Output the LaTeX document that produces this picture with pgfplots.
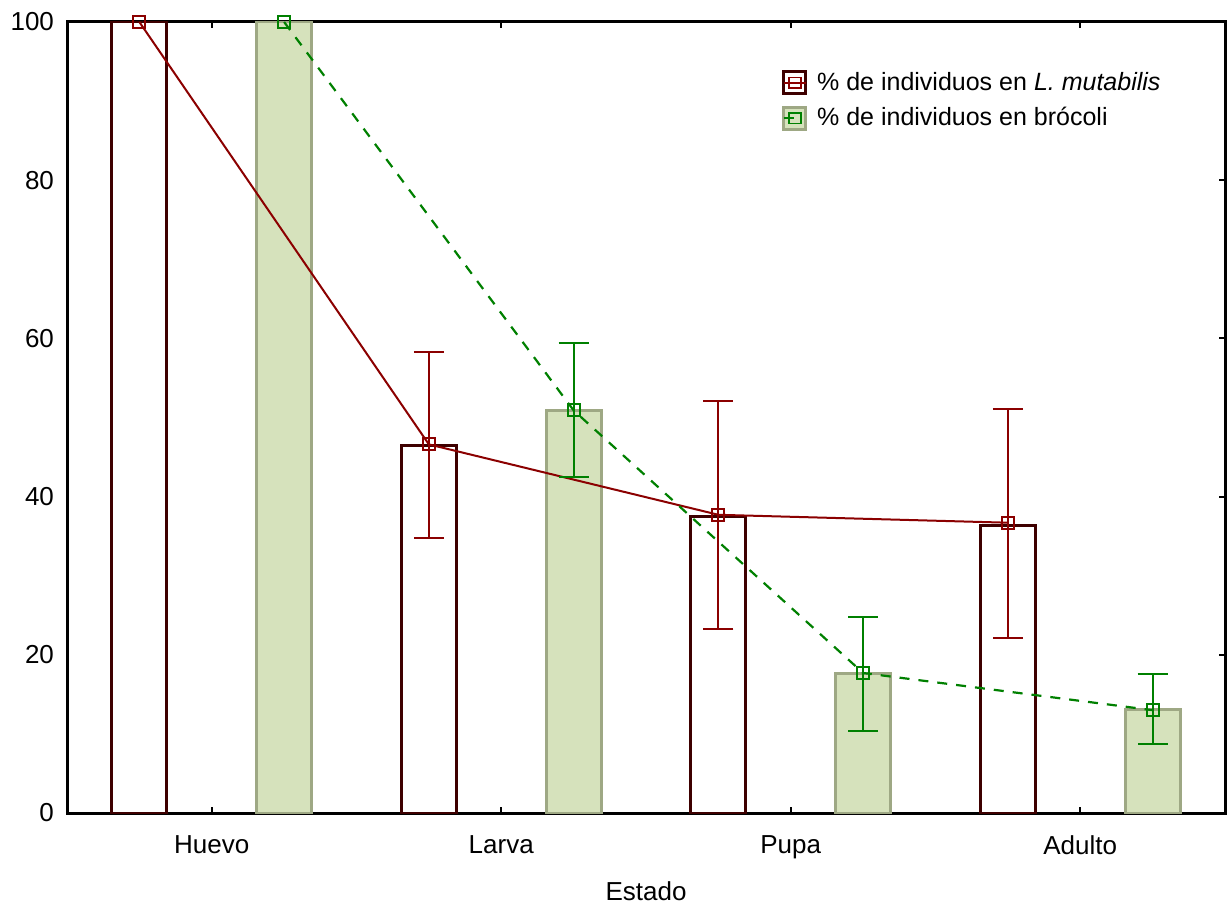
\documentclass[border=0pt]{standalone}
\usepackage{pgfplots}
\pgfplotsset{compat=1.18}
\usepackage{fontspec}
\setmainfont{Liberation Sans}
\definecolor{redline}{RGB}{139,0,0}
\definecolor{redbar}{RGB}{62,0,0}
\definecolor{grnline}{RGB}{0,128,0}
\definecolor{grnfill}{RGB}{214,226,188}
\definecolor{grnedge}{RGB}{158,168,132}

% bar heights
\pgfplotstableread{
x y
-0.25 100
0.75 46.4
1.75 37.5
2.75 36.4
}\redbars
\pgfplotstableread{
x y
0.25 100
1.25 50.9
2.25 17.6
3.25 13.1
}\grnbars

\begin{document}
\begin{tikzpicture}
\begin{axis}[
    scale only axis,
    width=579pt, height=395.5pt,
    xmin=-0.5, xmax=3.5, ymin=0, ymax=100,
    xtick={0,1,2,3},
    xticklabels={Huevo,Larva,Pupa,Adulto},
    ytick={0,20,40,60,80,100},
    ytick pos=right, yticklabel pos=left,
    tick align=inside,
    major tick length=3pt,
    tick style={black, line width=1pt},
    axis line style={line width=1.5pt},
    /pgf/number format/assume math mode=true,
    ticklabel style={font=\fontsize{13}{15}\selectfont},
    xticklabel style={yshift=-8pt},
    yticklabel style={xshift=-3pt},
    xlabel={Estado},
    x label style={font=\fontsize{13}{15}\selectfont, at={(axis description cs:0.5,0)}, anchor=north, yshift=-31pt},
    legend style={at={(axis description cs:0.612,0.947)}, anchor=north west, draw=none, fill=none,
        font=\fontsize{12.5}{15}\selectfont, row sep=3pt},
    legend cell align=left,
]
\addplot[ybar, bar width=0.19, bar shift=0pt, draw=redbar, fill=white, line width=1.5pt,
    legend image code/.code={
        \draw[redbar, line width=1.6pt, fill=white] (0pt,-5.5pt) rectangle (11pt,5.5pt);
        \draw[redline, line width=0.9pt, fill=none] (0pt,0pt) -- (11pt,0pt);
        \draw[redline, line width=0.9pt, fill=none] (2.5pt,-2.7pt) rectangle (8.5pt,2.7pt);
        \path (14pt,0pt);
    }] table[x=x, y=y] {\redbars};
\addlegendentry{\% de individuos en \textit{L. mutabilis}}
\addplot[ybar, bar width=0.19, bar shift=0pt, draw=grnedge, fill=grnfill, line width=1.5pt,
    legend image code/.code={
        \draw[grnedge, line width=1.6pt, fill=grnfill] (0pt,-5.5pt) rectangle (11pt,5.5pt);
        \draw[grnline, line width=0.9pt, fill=none] (0pt,0pt) -- (5pt,0pt);
        \draw[grnline, line width=0.9pt, fill=none] (2.5pt,-2.7pt) rectangle (8.5pt,2.7pt);
        \path (14pt,0pt);
    }] table[x=x, y=y] {\grnbars};
\addlegendentry{\% de individuos en brócoli}

\addplot[redline, line width=1pt, mark=square, mark size=3pt, forget plot,
    error bars/.cd, y dir=both, y explicit,
    error bar style={line width=1pt, redline},
    error mark options={rotate=90, mark size=7.5pt, line width=1pt, redline}]
    coordinates {
    (-0.25,100)
    (0.75,46.6) += (0,11.7) -= (0,11.8)
    (1.75,37.7) += (0,14.4) -= (0,14.4)
    (2.75,36.7) += (0,14.4) -= (0,14.6)
    };
\addplot[grnline, line width=1.1pt, dash pattern=on 5pt off 4.5pt, mark=square, mark size=3pt,
    mark options={solid}, forget plot,
    error bars/.cd, y dir=both, y explicit,
    error bar style={line width=1pt, grnline, solid},
    error mark options={rotate=90, mark size=7.5pt, line width=1pt, grnline, solid}]
    coordinates {
    (0.25,100)
    (1.25,50.9) += (0,8.5) -= (0,8.4)
    (2.25,17.7) += (0,7.1) -= (0,7.3)
    (3.25,13.0) += (0,4.6) -= (0,4.3)
    };
\end{axis}
\pgfresetboundingbox
\path ([shift={(-33.5pt,-46.5pt)}]current axis.south west) rectangle ([shift={(1pt,11pt)}]current axis.north east);
\end{tikzpicture}
\end{document}
